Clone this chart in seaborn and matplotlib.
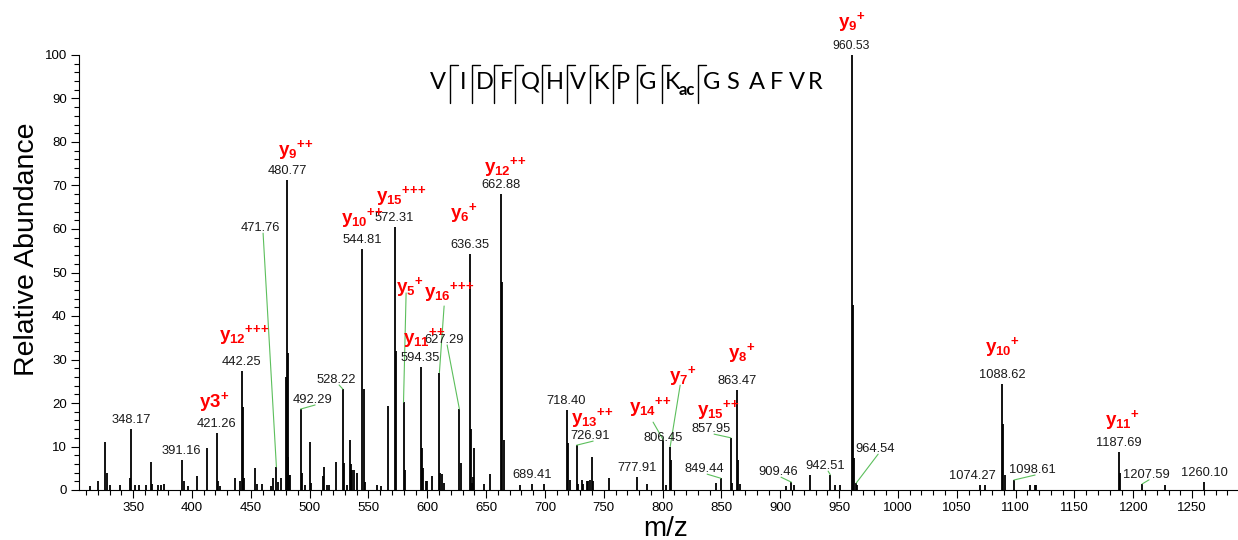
import matplotlib
matplotlib.use("Agg")
import matplotlib.pyplot as plt
import seaborn as sns
from matplotlib import font_manager
from matplotlib.lines import Line2D
from matplotlib.ticker import MultipleLocator

# centroided peaks: m/z and relative abundance (%)
peak_mz = [
    313.7, 320.5, 326.4, 328.1, 330.7, 339.2, 347.2, 348.17, 351.9, 355.3,
    361.2, 365.5, 366.4, 371.4, 374.0, 376.5, 391.16, 393.0, 396.9, 404.6,
    413.1, 421.26, 422.3, 424.1, 436.9, 441.1, 442.25, 443.25, 444.2, 453.9,
    454.9, 459.8, 467.5, 469.2, 471.76, 473.4, 476.0, 479.8, 480.77, 481.27,
    481.77, 482.27, 483.3, 492.29, 493.3, 496.2, 500.3, 501.3, 511.6, 512.5,
    515.1, 516.8, 522.7, 528.22, 529.22, 532.1, 534.6, 535.5, 536.4, 538.0,
    540.6, 544.81, 545.81, 546.81, 557.6, 561.0, 566.9, 572.31, 573.31, 579.8,
    580.8, 594.35, 595.35, 596.3, 599.2, 600.1, 604.3, 610.3, 610.9, 612.8,
    614.5, 627.29, 628.29, 636.35, 637.35, 638.0, 639.2, 640.0, 648.5, 653.6,
    662.88, 663.88, 664.88, 679.1, 689.41, 699.5, 718.40, 719.40, 721.6, 726.91,
    727.9, 731.8, 732.6, 736.0, 736.9, 738.6, 740.3, 741.1, 754.7, 777.91,
    787.0, 800.6, 803.2, 806.45, 807.45, 845.7, 849.44, 857.95, 858.95, 863.47,
    864.47, 866.0, 905.1, 909.46, 912.0, 925.5, 942.51, 946.8, 951.1, 960.53,
    961.53, 962.53, 964.54, 965.5, 1070.0, 1074.27, 1088.62, 1089.62, 1090.62, 1098.61,
    1112.5, 1116.2, 1117.2, 1187.69, 1188.69, 1207.59, 1227.2, 1260.10,
]
peak_int = [
    1.0, 2.0, 11.0, 4.0, 1.2, 1.2, 2.8, 14.0, 1.2, 1.2,
    1.2, 6.5, 1.3, 1.2, 1.2, 1.3, 7.0, 2.0, 1.0, 3.2,
    9.7, 13.0, 2.0, 1.0, 2.8, 2.0, 27.4, 19.0, 2.8, 5.0,
    1.3, 1.3, 1.0, 2.8, 5.3, 1.9, 2.8, 26.0, 71.3, 31.5,
    7.5, 3.5, 3.5, 18.6, 4.0, 1.2, 11.0, 1.6, 3.2, 5.3,
    1.2, 1.2, 6.5, 23.2, 6.2, 1.2, 11.5, 6.0, 4.6, 4.6,
    3.9, 55.4, 23.2, 1.8, 1.2, 1.0, 19.3, 60.5, 32.0, 20.2,
    4.6, 28.3, 9.7, 5.0, 2.0, 2.0, 3.2, 27.0, 4.0, 3.6,
    1.6, 18.6, 6.2, 54.2, 14.0, 1.6, 3.0, 9.7, 1.4, 3.6,
    68.0, 47.8, 11.5, 1.2, 1.4, 1.4, 18.4, 10.8, 2.3, 10.3,
    1.4, 2.3, 1.4, 2.0, 2.0, 2.3, 7.6, 2.0, 2.8, 3.0,
    1.4, 11.5, 1.2, 10.0, 7.0, 1.6, 2.7, 12.0, 1.6, 23.0,
    7.0, 1.4, 1.0, 1.8, 1.2, 3.5, 3.5, 1.2, 1.2, 100.0,
    42.5, 7.3, 1.6, 1.2, 1.1, 1.1, 24.4, 15.2, 3.4, 2.3,
    1.2, 1.2, 1.2, 8.7, 4.0, 1.4, 1.1, 1.8,
]

# annotated m/z values
labelled_mz = [
    348.17, 391.16, 421.26, 442.25, 471.76, 480.77, 492.29, 528.22, 544.81,
    572.31, 594.35, 627.29, 636.35, 662.88, 689.41, 718.40, 726.91, 777.91,
    806.45, 849.44, 857.95, 863.47, 909.46, 942.51, 960.53, 964.54, 1074.27,
    1088.62, 1098.61, 1187.69, 1207.59, 1260.10,
]

# fragment ions: name pieces (number, charge) and the peak they belong to
ion_number = ["3", "12", "9", "10", "15", "6", "5", "16", "11", "12",
              "13", "14", "7", "15", "8", "9", "10", "11"]
ion_charge = ["+", "+++", "++", "++", "+++", "+", "+", "+++", "++", "++",
              "++", "++", "+", "++", "+", "+", "+", "+"]
ion_peak = [421.26, 442.25, 480.77, 544.81, 572.31, 636.35, 579.8, 610.3, 594.35,
            662.88, 726.91, 800.6, 806.45, 857.95, 863.47, 960.53, 1088.62, 1187.69]

residues = ["V", "I", "D", "F", "Q", "H", "V", "K", "P", "G", "K",
            "G", "S", "A", "F", "V", "R"]

# ---- layout (pixel / data positions of the annotations) ----
W, H = 1238, 540
# moved m/z labels: (text x, text baseline y) in data units, leader line or not
mz_label_pos = {
    471.76: ((457.9, 59.5), True),
    492.29: ((502.1, 20.0), True),
    528.22: ((522.5, 24.6), True),
    627.29: ((614.3, 33.8), True),
    726.91: ((738.4, 11.7), True),
    806.45: ((800.4, 11.3), False),
    849.44: ((835.3, 4.1), True),
    857.95: ((841.2, 13.3), True),
    909.46: ((898.1, 3.4), True),
    942.51: ((938.1, 4.8), True),
    964.54: ((980.6, 8.7), True),
    1074.27: ((1063.0, 2.5), False),
    1098.61: ((1114.0, 3.9), True),
    1207.59: ((1210.9, 2.8), True),
}
ion_label_pos = [
    (418.8, 19.1), (444.3, 34.5), (488.5, 77.0), (544.6, 61.4), (577.8, 66.4),
    (631.3, 62.5), (585.4, 45.5), (618.5, 44.4), (597.3, 33.8), (666.1, 73.1),
    (740.1, 15.4), (789.4, 17.9), (817.4, 25.1), (847.2, 17.2), (867.6, 30.3),
    (961.0, 106.4), (1088.5, 31.7), (1190.5, 14.9),
]
ion_leader_start = {6: (582.0, 45.3), 7: (614.3, 42.3), 11: (791.9, 15.6), 12: (814.9, 24.1)}
residue_x = [438, 463, 485, 507, 530, 555, 578, 602, 623, 648, 673,
             712, 733, 757, 777, 797, 815]
bracket_x = [450, 472, 494, 515, 542, 567, 590, 613, 637, 662, 698]

GREEN = "#5cbf5c"
RED = "#ff0000"

sns.set_theme(style="ticks", rc={
    "axes.edgecolor": "black", "xtick.color": "black", "ytick.color": "black",
    "text.color": "black", "axes.linewidth": 0.8,
})
plt.rcParams["font.family"] = ["Liberation Sans", "DejaVu Sans"]
names = {f.name for f in font_manager.fontManager.ttflist}
narrow = "Liberation Sans Narrow" if "Liberation Sans Narrow" in names else "Liberation Sans"
plt.rcParams["mathtext.fontset"] = "custom"
plt.rcParams["mathtext.rm"] = narrow
plt.rcParams["mathtext.bf"] = narrow + ":bold"
seq_font = "Lato" if "Lato" in names else "DejaVu Sans"

fig = plt.figure(figsize=(W / 100, H / 100), dpi=100)
ax = fig.add_axes([79 / W, 50 / H, (W - 79) / W, 435 / H])

ax.vlines(peak_mz, 0, peak_int, color="black", lw=1.3)
ax.set_xlim(304, 1289)
ax.set_ylim(0, 100)
ax.xaxis.set_major_locator(MultipleLocator(50))
ax.xaxis.set_minor_locator(MultipleLocator(10))
ax.yaxis.set_major_locator(MultipleLocator(10))
ax.yaxis.set_minor_locator(MultipleLocator(2))
ax.tick_params(which="major", direction="out", length=5.8, width=0.8, labelsize=9.5, pad=3.0)
ax.tick_params(which="minor", direction="out", length=3.6, width=0.8)
sns.despine(ax=ax)


def height(m):
    return peak_int[peak_mz.index(m)]


for m in labelled_mz:
    txt = f"{m:.2f}"
    size = 8.8 if m == 960.53 else 9.3
    if m in mz_label_pos:
        (tx, ty), leader = mz_label_pos[m]
        ax.text(tx, ty, txt, ha="center", va="baseline", fontsize=size, color="#1a1a1a")
        if leader:
            sx = tx + 3 / 1.1767
            sy = ty - 2 / 4.35
            ax.plot([sx, m], [sy, height(m)], color=GREEN, lw=0.8)
    else:
        ax.annotate(txt, (m, height(m)), xytext=(0, 4.3), textcoords="offset points",
                    ha="center", va="baseline", fontsize=size, color="#1a1a1a",
                    annotation_clip=False)

for i, (num, chg) in enumerate(zip(ion_number, ion_charge)):
    plus = "".join("{+}" for _ in chg)
    if num == "3":
        tex = r"$\mathbf{y3^{%s}}$" % plus
    else:
        tex = r"$\mathbf{y_{%s}{}^{%s}}$" % (num, plus)
    tx, ty = ion_label_pos[i]
    ax.text(tx, ty, tex, ha="center", va="baseline", fontsize=13.5, color=RED)
    if i in ion_leader_start:
        sx, sy = ion_leader_start[i]
        ax.plot([sx, ion_peak[i]], [sy, height(ion_peak[i])], color=GREEN, lw=0.8)

# peptide sequence with y-ion cleavage brackets
for x, r in zip(residue_x, residues):
    fig.text(x / W, 1 - 89 / H, r, ha="center", va="baseline", fontsize=17, family=seq_font)
fig.text(687 / W, 1 - 95 / H, "ac", ha="center", va="baseline", fontsize=12,
         fontweight="bold", family=seq_font)
for x in bracket_x:
    fig.add_artist(Line2D([x / W, x / W, (x + 8) / W], [1 - 103 / H, 1 - 65 / H, 1 - 65 / H],
                          color="black", lw=1.0))

fig.text(27 / W, 1 - 249 / H, "Relative Abundance", rotation=90, ha="center", va="center",
         fontsize=20.5)
fig.text(666 / W, 1 - 536 / H, "m/z", ha="center", va="baseline", fontsize=20)

fig.savefig("out.png", dpi=100)
